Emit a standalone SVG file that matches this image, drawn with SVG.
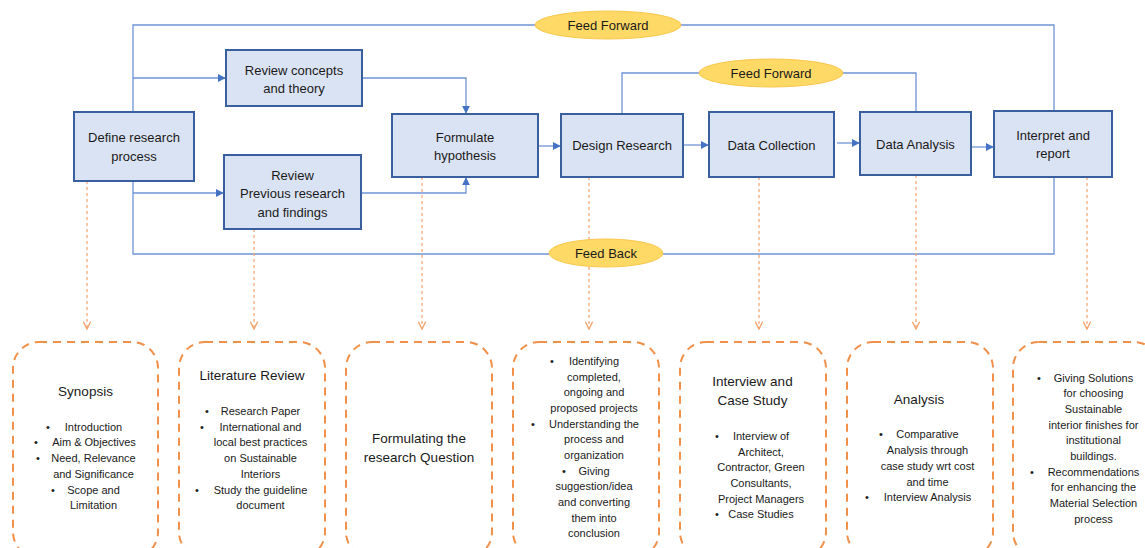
<svg xmlns="http://www.w3.org/2000/svg" width="1145" height="548" viewBox="0 0 1145 548">
  <defs>
    <style>
      .proc { fill: #DAE3F3; stroke: #3A5F9E; stroke-width: 2; }
      .pill { fill: #FFD966; stroke: #F9C74F; stroke-width: 1; }
      .link { fill: none; stroke: #6F93D6; stroke-width: 1.3; }
      .drop { fill: none; stroke: #F4A26B; stroke-width: 1.2; stroke-dasharray: 3 3; }
      .note { fill: none; stroke: #F0904A; stroke-width: 2; stroke-dasharray: 8 6; }
      text { font-family: "Liberation Sans", Arial, sans-serif; fill: #1a1a1a; text-anchor: middle; }
      .t13 { font-size: 13px; }
      .h { font-size: 13.5px; }
      .b { font-size: 11px; }
      .bul { font-size: 11px; text-anchor: start; }
    </style>
    <marker id="arrowBlue" viewBox="0 0 10 10" refX="9" refY="5" markerWidth="8" markerHeight="8" markerUnits="userSpaceOnUse" orient="auto">
      <path d="M0,0 L10,5 L0,10 z" fill="#4472C4"/>
    </marker>
    <marker id="arrowOrange" viewBox="0 0 10 10" refX="9" refY="5" markerWidth="9" markerHeight="9" markerUnits="userSpaceOnUse" orient="auto">
      <path d="M1,1 L9,5 L1,9" fill="none" stroke="#F4A26B" stroke-width="1.5"/>
    </marker>
  </defs>

  <!-- connectors -->
  <g id="connectors">
    <!-- outer feed-forward / feed-back loop -->
    <path class="link" d="M133,112 V25 H1054 V111"/>
    <path class="link" d="M133,181 V254 H1054 V177"/>
    <!-- inner feed-forward loop -->
    <path class="link" d="M622,114 V73 H916 V112"/>
    <!-- branches to reviews -->
    <path class="link" d="M133,78 H225" marker-end="url(#arrowBlue)"/>
    <path class="link" d="M133,193 H223" marker-end="url(#arrowBlue)"/>
    <!-- reviews into hypothesis -->
    <path class="link" d="M362,78 H466 V113" marker-end="url(#arrowBlue)"/>
    <path class="link" d="M361,193 H466 V178" marker-end="url(#arrowBlue)"/>
    <!-- main chain -->
    <path class="link" d="M538,146 H560" marker-end="url(#arrowBlue)"/>
    <path class="link" d="M683,145 H708" marker-end="url(#arrowBlue)"/>
    <path class="link" d="M837,143 H859" marker-end="url(#arrowBlue)"/>
    <path class="link" d="M971,147 H993" marker-end="url(#arrowBlue)"/>
    <!-- dotted drops to the output notes -->
    <path class="drop" d="M87,181 V329" marker-end="url(#arrowOrange)"/>
    <path class="drop" d="M254,229 V329" marker-end="url(#arrowOrange)"/>
    <path class="drop" d="M422,177 V329" marker-end="url(#arrowOrange)"/>
    <path class="drop" d="M589,177 V329" marker-end="url(#arrowOrange)"/>
    <path class="drop" d="M759,177 V329" marker-end="url(#arrowOrange)"/>
    <path class="drop" d="M916,175 V329" marker-end="url(#arrowOrange)"/>
    <path class="drop" d="M1087,177 V329" marker-end="url(#arrowOrange)"/>
  </g>

  <!-- loop labels -->
  <g id="feed-forward-outer">
    <ellipse class="pill" cx="608" cy="25" rx="73" ry="14"/>
    <text class="t13" x="608" y="29.5">Feed Forward</text>
  </g>
  <g id="feed-forward-inner">
    <ellipse class="pill" cx="771" cy="73" rx="72" ry="14"/>
    <text class="t13" x="771" y="78">Feed Forward</text>
  </g>
  <g id="feed-back">
    <ellipse class="pill" cx="606" cy="253" rx="57" ry="14"/>
    <text class="t13" x="606" y="258">Feed Back</text>
  </g>

  <!-- process steps -->
  <g id="define-process">
    <rect class="proc" x="74" y="112" width="120" height="69"/>
    <text class="t13" x="134" y="142">Define research</text>
    <text class="t13" x="134" y="161">process</text>
  </g>
  <g id="review-concepts">
    <rect class="proc" x="226" y="50" width="136" height="56"/>
    <text class="t13" x="294" y="75">Review concepts</text>
    <text class="t13" x="294" y="93">and theory</text>
  </g>
  <g id="review-previous">
    <rect class="proc" x="224" y="155" width="137" height="74"/>
    <text class="t13" x="292.5" y="180">Review</text>
    <text class="t13" x="292.5" y="198">Previous research</text>
    <text class="t13" x="292.5" y="217">and findings</text>
  </g>
  <g id="formulate-hypothesis">
    <rect class="proc" x="392" y="114" width="146" height="63"/>
    <text class="t13" x="465" y="142">Formulate</text>
    <text class="t13" x="465" y="160">hypothesis</text>
  </g>
  <g id="design-research">
    <rect class="proc" x="561" y="114" width="122" height="63"/>
    <text class="t13" x="622" y="150">Design Research</text>
  </g>
  <g id="data-collection">
    <rect class="proc" x="709" y="112" width="125" height="65"/>
    <text class="t13" x="771.5" y="150">Data Collection</text>
  </g>
  <g id="data-analysis">
    <rect class="proc" x="860" y="112" width="111" height="63"/>
    <text class="t13" x="915.5" y="149">Data Analysis</text>
  </g>
  <g id="interpret-report">
    <rect class="proc" x="994" y="111" width="118" height="66"/>
    <text class="t13" x="1053" y="140">Interpret and</text>
    <text class="t13" x="1053" y="158">report</text>
  </g>

  <!-- output notes -->
  <g id="note-synopsis">
    <rect class="note" x="13" y="342" width="145" height="216" rx="26"/>
    <text class="h" x="85.5" y="396">Synopsis</text>
    <text class="bul" x="46" y="431">•</text><text class="b" x="93.5" y="431">Introduction</text>
    <text class="bul" x="34" y="446">•</text><text class="b" x="94" y="446">Aim &amp; Objectives</text>
    <text class="bul" x="36" y="462">•</text><text class="b" x="93.5" y="462">Need, Relevance</text>
    <text class="b" x="93.5" y="478">and Significance</text>
    <text class="bul" x="51" y="494">•</text><text class="b" x="93.5" y="494">Scope and</text>
    <text class="b" x="93.5" y="509">Limitation</text>
  </g>
  <g id="note-literature">
    <rect class="note" x="179" y="342" width="146" height="216" rx="26"/>
    <text class="h" x="252" y="380">Literature Review</text>
    <text class="bul" x="205" y="415">•</text><text class="b" x="260.5" y="415">Research Paper</text>
    <text class="bul" x="200" y="431">•</text><text class="b" x="260.5" y="431">International and</text>
    <text class="b" x="260.5" y="446">local best practices</text>
    <text class="b" x="260.5" y="462">on Sustainable</text>
    <text class="b" x="260.5" y="478">Interiors</text>
    <text class="bul" x="195" y="494">•</text><text class="b" x="260.5" y="494">Study the guideline</text>
    <text class="b" x="260.5" y="509">document</text>
  </g>
  <g id="note-question">
    <rect class="note" x="346" y="342" width="146" height="216" rx="26"/>
    <text class="h" x="419" y="443">Formulating the</text>
    <text class="h" x="419" y="462">research Question</text>
  </g>
  <g id="note-design">
    <rect class="note" x="513" y="342" width="146" height="216" rx="26"/>
    <text class="bul" x="550" y="365">•</text><text class="b" x="594" y="365">Identifying</text>
    <text class="b" x="594" y="381">completed,</text>
    <text class="b" x="594" y="396">ongoing and</text>
    <text class="b" x="594" y="412">proposed projects</text>
    <text class="bul" x="531" y="428">•</text><text class="b" x="594" y="428">Understanding the</text>
    <text class="b" x="594" y="443">process and</text>
    <text class="b" x="594" y="459">organization</text>
    <text class="bul" x="562" y="475">•</text><text class="b" x="594" y="475">Giving</text>
    <text class="b" x="594" y="490">suggestion/idea</text>
    <text class="b" x="594" y="506">and converting</text>
    <text class="b" x="594" y="522">them into</text>
    <text class="b" x="594" y="537">conclusion</text>
  </g>
  <g id="note-interview">
    <rect class="note" x="680" y="342" width="146" height="216" rx="26"/>
    <text class="h" x="752.5" y="386">Interview and</text>
    <text class="h" x="752.5" y="405">Case Study</text>
    <text class="bul" x="715" y="440">•</text><text class="b" x="761" y="440">Interview of</text>
    <text class="b" x="761" y="456">Architect,</text>
    <text class="b" x="761" y="471">Contractor, Green</text>
    <text class="b" x="761" y="487">Consultants,</text>
    <text class="b" x="761" y="503">Project Managers</text>
    <text class="bul" x="715" y="518">•</text><text class="b" x="761" y="518">Case Studies</text>
  </g>
  <g id="note-analysis">
    <rect class="note" x="847" y="342" width="146" height="216" rx="26"/>
    <text class="h" x="919" y="404">Analysis</text>
    <text class="bul" x="879" y="438">•</text><text class="b" x="927.5" y="438">Comparative</text>
    <text class="b" x="927.5" y="454">Analysis through</text>
    <text class="b" x="927.5" y="470">case study wrt cost</text>
    <text class="b" x="927.5" y="486">and time</text>
    <text class="bul" x="865" y="501">•</text><text class="b" x="927.5" y="501">Interview Analysis</text>
  </g>
  <g id="note-solutions">
    <rect class="note" x="1013" y="342" width="147" height="216" rx="26"/>
    <text class="bul" x="1037" y="382">•</text><text class="b" x="1093.5" y="382">Giving Solutions</text>
    <text class="b" x="1093.5" y="397">for choosing</text>
    <text class="b" x="1093.5" y="413">Sustainable</text>
    <text class="b" x="1093.5" y="429">interior finishes for</text>
    <text class="b" x="1093.5" y="444">institutional</text>
    <text class="b" x="1093.5" y="460">buildings.</text>
    <text class="bul" x="1030" y="476">•</text><text class="b" x="1093.5" y="476">Recommendations</text>
    <text class="b" x="1093.5" y="491">for enhancing the</text>
    <text class="b" x="1093.5" y="507">Material Selection</text>
    <text class="b" x="1093.5" y="523">process</text>
  </g>
</svg>
